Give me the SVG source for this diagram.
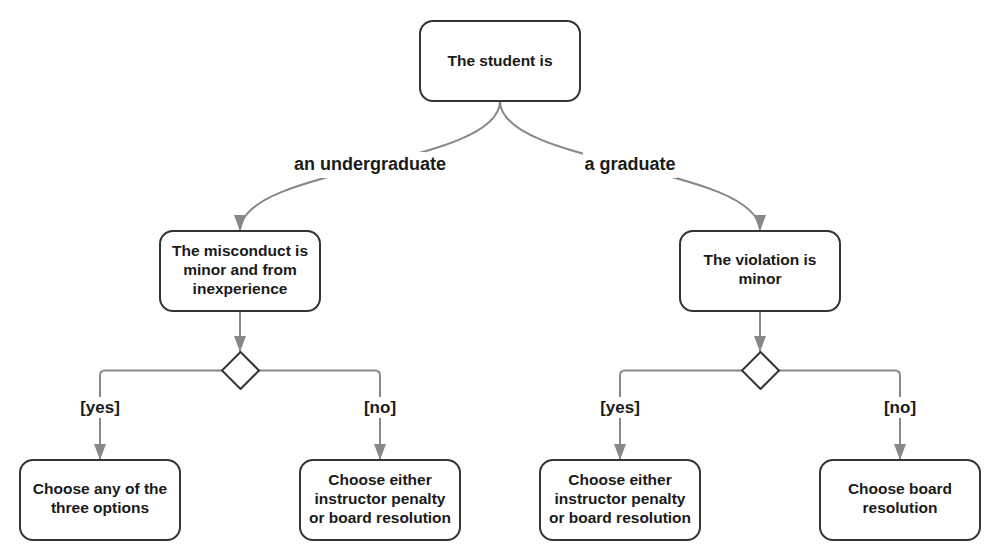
<svg xmlns="http://www.w3.org/2000/svg" width="1000" height="560" viewBox="0 0 1000 560">
<style>
.node rect{fill:#fff;stroke:#333;stroke-width:2}
.node polygon{fill:#fff;stroke:#333;stroke-width:2;stroke-linejoin:round}
.node text{font-family:"Liberation Sans",Arial,sans-serif;font-weight:bold;font-size:15.5px;fill:#1a1a1a;text-anchor:middle}
.conn path{fill:none;stroke:#888;stroke-width:2}
.lbl rect{fill:#fff;stroke:none}
.lbl text{font-family:"Liberation Sans",Arial,sans-serif;font-weight:bold;fill:#1a1a1a;text-anchor:middle}
</style>
<defs>
<marker id="arr" markerUnits="userSpaceOnUse" markerWidth="16" markerHeight="12" refX="16" refY="6" orient="auto">
<path d="M0,0 L16,6 L0,12 z" fill="#888"/>
</marker>
</defs>
<rect width="1000" height="560" fill="#fff"/>
<g id="connectors" class="conn">
<path d="M500,101 C500,166 240,166 240,231" marker-end="url(#arr)"/>
<path d="M500,101 C500,166 760,166 760,231" marker-end="url(#arr)"/>
<path d="M240,311 V352" marker-end="url(#arr)"/>
<path d="M760,311 V352" marker-end="url(#arr)"/>
<path d="M222,370.5 H105 Q100,370.5 100,375.5 V460" marker-end="url(#arr)"/>
<path d="M259,370.5 H375 Q380,370.5 380,375.5 V460" marker-end="url(#arr)"/>
<path d="M742,370.5 H625 Q620,370.5 620,375.5 V460" marker-end="url(#arr)"/>
<path d="M779,370.5 H895 Q900,370.5 900,375.5 V460" marker-end="url(#arr)"/>
</g>
<g id="labels" class="lbl">
<rect x="292" y="152" width="157" height="26"/>
<text x="370" y="170" font-size="18">an undergraduate</text>
<rect x="583" y="152" width="94" height="26"/>
<text x="630" y="170" font-size="18">a graduate</text>
<rect x="80" y="397" width="40" height="21"/>
<text x="100" y="413" font-size="17">[yes]</text>
<rect x="362" y="397" width="36" height="21"/>
<text x="380" y="413" font-size="17">[no]</text>
<rect x="600" y="397" width="40" height="21"/>
<text x="620" y="413" font-size="17">[yes]</text>
<rect x="882" y="397" width="36" height="21"/>
<text x="900" y="413" font-size="17">[no]</text>
</g>
<g id="n-student" class="node">
<rect x="420" y="21" width="160" height="80" rx="13"/>
<text x="500" y="66">The student is</text>
</g>
<g id="n-misconduct" class="node">
<rect x="160" y="231" width="160" height="80" rx="13"/>
<text x="240" y="256">The misconduct is</text>
<text x="240" y="275">minor and from</text>
<text x="240" y="294">inexperience</text>
</g>
<g id="n-violation" class="node">
<rect x="680" y="231" width="160" height="80" rx="13"/>
<text x="760" y="265">The violation is</text>
<text x="760" y="284">minor</text>
</g>
<g id="d-left" class="node">
<polygon points="240.5,352 259,370.5 240.5,389 222,370.5"/>
</g>
<g id="d-right" class="node">
<polygon points="760.5,352 779,370.5 760.5,389 742,370.5"/>
</g>
<g id="n-any" class="node">
<rect x="20" y="460" width="160" height="80" rx="13"/>
<text x="100" y="494">Choose any of the</text>
<text x="100" y="513">three options</text>
</g>
<g id="n-either-ug" class="node">
<rect x="300" y="460" width="160" height="80" rx="13"/>
<text x="380" y="485">Choose either</text>
<text x="380" y="504">instructor penalty</text>
<text x="380" y="523">or board resolution</text>
</g>
<g id="n-either-g" class="node">
<rect x="540" y="460" width="160" height="80" rx="13"/>
<text x="620" y="485">Choose either</text>
<text x="620" y="504">instructor penalty</text>
<text x="620" y="523">or board resolution</text>
</g>
<g id="n-board" class="node">
<rect x="820" y="460" width="160" height="80" rx="13"/>
<text x="900" y="494">Choose board</text>
<text x="900" y="513">resolution</text>
</g>
</svg>
